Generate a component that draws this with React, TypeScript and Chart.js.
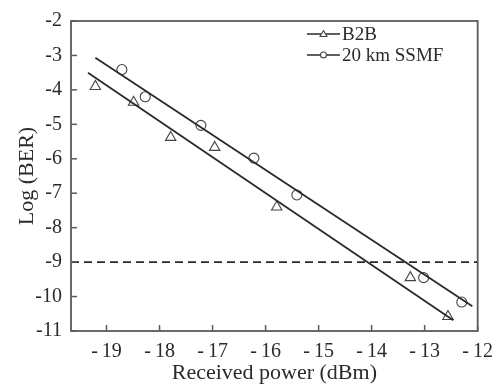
import React, { useEffect, useRef } from "react";
import { Chart, registerables } from "chart.js";

Chart.register(...registerables);

const b2bX = [-19.21, -18.49, -17.79, -16.96, -15.79, -13.27, -12.56];
const b2bY = [-3.9, -4.36, -5.38, -5.67, -7.4, -9.45, -10.58];
const ssmfX = [-18.71, -18.27, -17.22, -16.22, -15.41, -13.02, -12.3];
const ssmfY = [-3.41, -4.2, -5.03, -5.98, -7.05, -9.45, -10.16];
const b2bFitX = [-19.35, -12.46];
const b2bFitY = [-3.5, -10.69];
const ssmfFitX = [-19.21, -12.1];
const ssmfFitY = [-3.07, -10.28];
const thresholdX = [-19.67, -12];
const thresholdY = [-9, -9];
const xTicks = [-19, -18, -17, -16, -15, -14, -13, -12];
const yTicks = [-2, -3, -4, -5, -6, -7, -8, -9, -10, -11];
const legendLabels = ["B2B", "20 km SSMF"];

const FONT = "'Liberation Serif', 'DejaVu Serif', serif";
const INK = "#2a2a2a";
const AXIS = "#5a5a5a";

const pts = (xs: number[], ys: number[]) => xs.map((x, i) => ({ x, y: ys[i] }));

const framePlugin = {
  id: "frame",
  afterDraw(chart: any) {
    const { ctx, chartArea, scales } = chart;
    const { left, right, top, bottom } = chartArea;
    ctx.save();
    ctx.strokeStyle = AXIS;
    ctx.lineWidth = 1.8;
    ctx.strokeRect(left, top, right - left, bottom - top);
    ctx.lineWidth = 1.5;
    xTicks.forEach((v) => {
      const px = scales.x.getPixelForValue(v);
      ctx.beginPath();
      ctx.moveTo(px, bottom);
      ctx.lineTo(px, bottom - 6);
      ctx.stroke();
    });
    yTicks.forEach((v) => {
      const py = scales.y.getPixelForValue(v);
      ctx.beginPath();
      ctx.moveTo(left, py);
      ctx.lineTo(left + 6, py);
      ctx.stroke();
    });
    // legend
    const lx0 = 307;
    const lx1 = 340;
    const rows = [34, 55];
    rows.forEach((ly, i) => {
      ctx.strokeStyle = INK;
      ctx.lineWidth = 1.6;
      ctx.beginPath();
      ctx.moveTo(lx0, ly);
      ctx.lineTo(lx1, ly);
      ctx.stroke();
      const cx = (lx0 + lx1) / 2;
      ctx.strokeStyle = "#444";
      ctx.fillStyle = "#fff";
      ctx.lineWidth = 1.1;
      ctx.beginPath();
      if (i === 0) {
        ctx.moveTo(cx, ly - 3.5);
        ctx.lineTo(cx + 3.5, ly + 2.5);
        ctx.lineTo(cx - 3.5, ly + 2.5);
        ctx.closePath();
      } else {
        ctx.arc(cx, ly, 3, 0, Math.PI * 2);
      }
      ctx.fill();
      ctx.stroke();
      ctx.fillStyle = INK;
      ctx.font = `19px ${FONT}`;
      ctx.textAlign = "left";
      ctx.textBaseline = "middle";
      ctx.fillText(legendLabels[i], lx1 + 2, ly + 1);
    });
    ctx.restore();
  },
};

export default function App() {
  const ref = useRef<HTMLCanvasElement | null>(null);
  useEffect(() => {
    document.body.style.margin = "0";
    const canvas = ref.current;
    if (!canvas) return;
    const chart = new Chart(canvas, {
      type: "scatter",
      data: {
        datasets: [
          {
            label: "thr",
            data: pts(thresholdX, thresholdY),
            showLine: true,
            borderColor: INK,
            borderWidth: 1.8,
            borderDash: [8, 5],
            pointRadius: 0,
          },
          {
            label: "b2bfit",
            data: pts(b2bFitX, b2bFitY),
            showLine: true,
            borderColor: INK,
            borderWidth: 1.8,
            pointRadius: 0,
          },
          {
            label: "ssmffit",
            data: pts(ssmfFitX, ssmfFitY),
            showLine: true,
            borderColor: INK,
            borderWidth: 1.8,
            pointRadius: 0,
          },
          {
            label: legendLabels[0],
            data: pts(b2bX, b2bY),
            pointStyle: "triangle",
            pointRadius: 6,
            borderColor: "#444",
            backgroundColor: "#fff",
            borderWidth: 1.1,
          },
          {
            label: legendLabels[1],
            data: pts(ssmfX, ssmfY),
            pointStyle: "circle",
            pointRadius: 5,
            borderColor: "#444",
            backgroundColor: "#fff",
            borderWidth: 1.1,
          },
        ],
      },
      options: {
        responsive: false,
        animation: false,
        layout: { padding: { top: 12, right: 18, left: 0, bottom: 0 } },
        plugins: { legend: { display: false }, tooltip: { enabled: false } },
        scales: {
          x: {
            type: "linear",
            min: -19.67,
            max: -12,
            afterFit: (s: any) => {
              s.height = 56;
            },
            afterBuildTicks: (s: any) => {
              s.ticks = xTicks.map((v) => ({ value: v }));
            },
            grid: { display: false, drawTicks: false },
            border: { display: false },
            ticks: {
              padding: 9,
              color: INK,
              font: { family: FONT, size: 20 },
              callback: (v: any) => String(v).replace("-", "-\u2009"),
            },
            title: {
              display: true,
              text: "Received power (dBm)",
              color: INK,
              font: { family: FONT, size: 22 },
              padding: { top: 0, bottom: 1 },
            },
          },
          y: {
            type: "linear",
            min: -11,
            max: -2,
            afterFit: (s: any) => {
              s.width = 71;
            },
            afterBuildTicks: (s: any) => {
              s.ticks = yTicks.map((v) => ({ value: v }));
            },
            grid: { display: false, drawTicks: false },
            border: { display: false },
            ticks: {
              padding: 9,
              color: INK,
              font: { family: FONT, size: 20 },
              callback: (v: any) => String(v),
            },
            title: {
              display: true,
              text: "Log (BER)",
              color: INK,
              font: { family: FONT, size: 22 },
              padding: { top: 14, bottom: 0 },
            },
          },
        },
      },
      plugins: [framePlugin],
    });
    return () => chart.destroy();
  }, []);
  return <canvas ref={ref} width={502} height={387} style={{ display: "block" }} />;
}
